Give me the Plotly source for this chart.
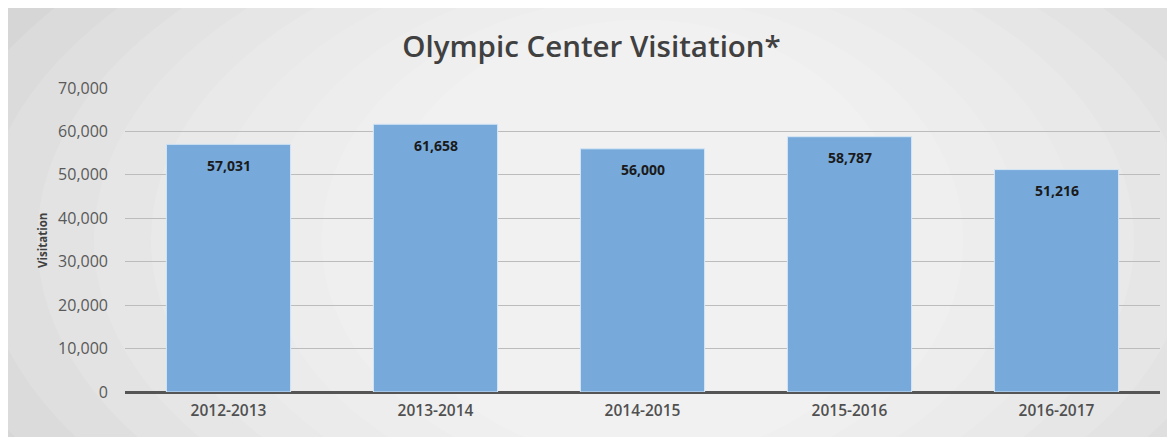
import plotly.graph_objects as go

categories = ["2012-2013", "2013-2014", "2014-2015", "2015-2016", "2016-2017"]
visitation = [57031, 61658, 56000, 58787, 51216]
tick_vals = [0, 10000, 20000, 30000, 40000, 50000, 60000, 70000]
tick_text = ["0", "10,000", "20,000", "30,000", "40,000", "50,000", "60,000", "70,000"]

fig = go.Figure()
fig.add_trace(go.Bar(
    x=categories, y=visitation,
    marker=dict(color="#77aadb", line=dict(color="#d6e6f5", width=1)),
    hoverinfo="skip",
))

annotations = []
for c, v in zip(categories, visitation):
    annotations.append(dict(x=c, y=v, xref="x", yref="y", text=f"{v:,}",
                            showarrow=False, yanchor="middle", yshift=-21,
                            font=dict(family="Open Sans", size=14, color="#1a1a1a", weight="bold")))
annotations.append(dict(x=-0.0802, y=0.5, xref="paper", yref="paper", text="Visitation",
                        showarrow=False, textangle=-90, xanchor="center", yanchor="middle",
                        font=dict(family="Open Sans", size=11.5, color="#404040", weight="bold")))

shapes = []
steps = 10
for i in range(steps):
    f = i / steps
    shapes.append(dict(type="circle", xref="paper", yref="paper", layer="below",
                       x0=-0.25 + 0.55 * f, x1=1.25 - 0.55 * f,
                       y0=-0.9 + 0.75 * f, y1=1.9 - 0.75 * f,
                       fillcolor="rgba(255,255,255,0.13)", line=dict(width=0)))

fig.update_layout(
    width=1167, height=429,
    margin=dict(l=117, r=15, t=80, b=45),
    paper_bgcolor="#d0d0d0",
    plot_bgcolor="rgba(0,0,0,0)",
    bargap=0.4,
    showlegend=False,
    shapes=shapes,
    annotations=annotations,
    title=dict(text="Olympic Center Visitation*", x=0.5, xanchor="center",
               y=0.909, yanchor="middle",
               font=dict(family="Open Sans", size=29.5, color="#404040", weight=600)),
    xaxis=dict(showgrid=False, showline=False, ticks="",
               tickfont=dict(family="Open Sans", size=15.5, color="#505050", weight=600),
               ticklabelstandoff=7,
               fixedrange=True),
    yaxis=dict(range=[0, 70000], tickvals=tick_vals, ticktext=tick_text,
               showgrid=True, gridcolor="#bcbcbc", gridwidth=1,
               zeroline=True, zerolinecolor="#555555", zerolinewidth=2.5,
               tickfont=dict(family="Open Sans", size=16, color="#595959"),
               ticklabelstandoff=16,
               fixedrange=True),
)

fig.write_html("out.html")
